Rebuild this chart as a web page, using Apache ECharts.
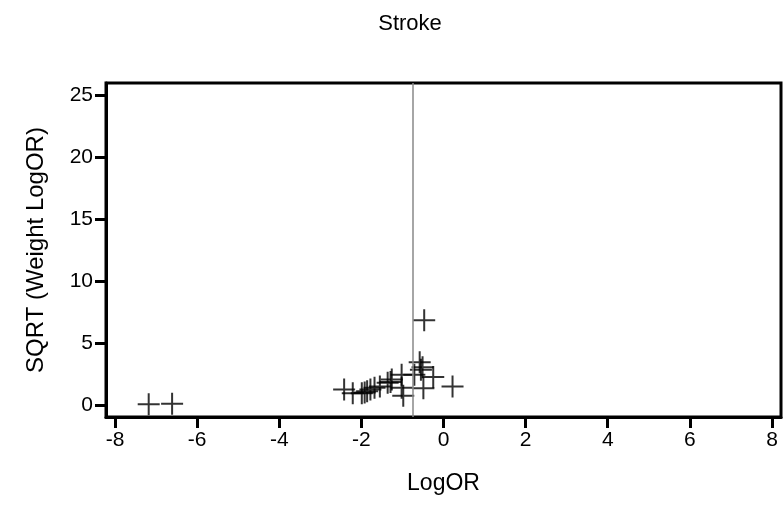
<!DOCTYPE html>
<html>
<head>
<meta charset="utf-8">
<script src="https://cdn.jsdelivr.net/npm/echarts@6/dist/echarts.min.js"></script>
<style>
  html, body { margin: 0; padding: 0; background: #fff; }
  #chart { width: 784px; height: 532px; }
</style>
</head>
<body>
<div id="chart"></div>
<script>
// Funnel-style plot of study log odds ratios for stroke
const logOR = [-7.18, -6.61, -2.42, -2.21, -1.99, -1.92, -1.86, -1.78, -1.68, -1.55,
  -1.36, -1.29, -1.26, -1.02, -1.02, -0.98, -0.71, -0.58, -0.51, -0.55,
  -0.49, -0.25, -0.47, 0.22];
const sqrtWeight = [0.05, 0.1, 1.25, 0.95, 0.95, 1.0, 1.1, 1.25, 1.4, 1.5,
  1.8, 1.85, 2.05, 2.45, 1.4, 0.75, 2.45, 3.45, 3.05, 2.85,
  1.35, 2.25, 6.85, 1.5];
const pooledLogOR = -0.74;
const xTicks = [-8, -6, -4, -2, 0, 2, 4, 6, 8];
const yTicks = [0, 5, 10, 15, 20, 25];

const points = logOR.map((v, i) => [v, sqrtWeight[i]]);
const font = 'Liberation Sans, Arial, sans-serif';

const chart = echarts.init(document.getElementById('chart'), null, { renderer: 'canvas' });
chart.setOption({
  animation: false,
  backgroundColor: '#fff',
  title: {
    text: 'Stroke',
    left: 405, top: 8, textAlign: 'center',
    textStyle: { fontFamily: font, fontSize: 22, fontWeight: 'normal', color: '#000' }
  },
  grid: {
    left: 106, right: 3, top: 83, bottom: 115,
    show: true, borderColor: '#000', borderWidth: 3, backgroundColor: '#fff'
  },
  xAxis: {
    type: 'value', min: -8.22, max: 8.22,
    name: 'LogOR', nameLocation: 'middle', nameGap: 55,
    nameTextStyle: { fontFamily: font, fontSize: 23, color: '#000' },
    axisLine: { show: true, onZero: false, lineStyle: { color: '#000', width: 3 } },
    axisTick: { show: true, customValues: xTicks, length: 11, inside: false, lineStyle: { color: '#000', width: 3 } },
    axisLabel: { customValues: xTicks, fontFamily: font, fontSize: 21, color: '#000', margin: 13 },
    splitLine: { show: false }
  },
  yAxis: {
    type: 'value', min: -0.97, max: 26,
    name: 'SQRT (Weight LogOR)', nameLocation: 'middle', nameGap: 58, nameRotate: 90,
    nameTextStyle: { fontFamily: font, fontSize: 24, color: '#000' },
    axisLine: { show: true, onZero: false, lineStyle: { color: '#000', width: 3 } },
    axisTick: { show: true, customValues: yTicks, length: 11, inside: false, lineStyle: { color: '#000', width: 3 } },
    axisLabel: { customValues: yTicks, fontFamily: font, fontSize: 21, color: '#000', margin: 13 },
    splitLine: { show: false }
  },
  series: [{
    type: 'scatter',
    data: points,
    symbol: 'path://M0,10H22V12H0Z M10,0H12V22H10Z',
    symbolSize: 22,
    itemStyle: { color: '#000' },
    markLine: {
      silent: true,
      symbol: 'none',
      label: { show: false },
      lineStyle: { color: '#888', width: 1.5, type: 'solid' },
      data: [{ xAxis: pooledLogOR }]
    },
    z: 3
  }]
});
</script>
</body>
</html>
